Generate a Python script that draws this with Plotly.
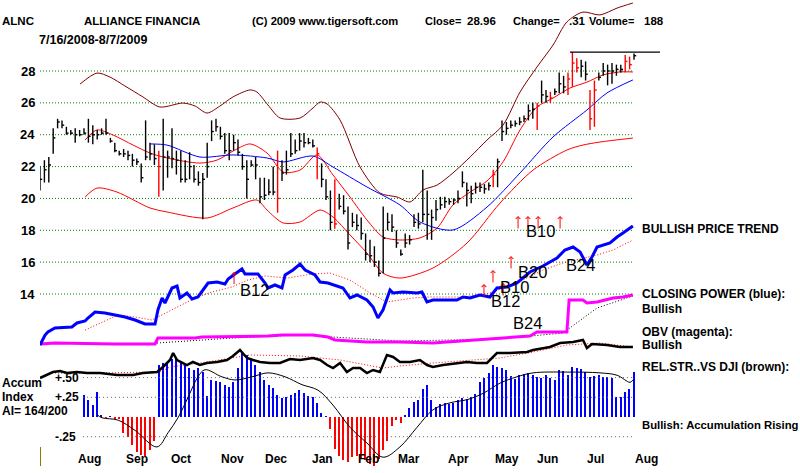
import plotly.graph_objects as go

# ------------------------------------------------------------------ data
price_ticks = [14, 16, 18, 20, 22, 24, 26, 28]
month_labels = ["Aug", "Sep", "Oct", "Nov", "Dec", "Jan", "Feb", "Mar", "Apr", "May", "Jun", "Jul", "Aug"]
month_pos = [22.7, 44.1, 64.1, 87.7, 107.3, 128.6, 149.1, 167.7, 190.0, 212.3, 230.9, 252.3, 275.9]

# price bars, one per two trading days (trading-day index)
bar_day = list(range(0, 272, 2))
bar_high = [22.0, 22.4, 22.6, 24.4, 25.0, 24.9, 24.5, 24.3, 24.4, 24.3,
            24.4, 25.0, 24.6, 24.3, 24.4, 25.0, 23.8, 23.5, 23.0, 23.1,
            23.0, 22.8, 22.5, 22.2, 24.9, 23.5, 23.4, 23.0, 25.0, 23.0,
            24.4, 23.0, 23.0, 22.4, 22.9, 22.1, 21.7, 21.6, 23.5, 24.9,
            25.0, 24.5, 24.1, 24.1, 24.0, 23.7, 22.8, 22.4, 22.4, 22.6,
            21.3, 21.3, 21.2, 22.0, 23.0, 22.4, 23.0, 24.1, 23.7, 24.1,
            24.1, 23.8, 23.7, 23.2, 22.2, 21.2, 20.5, 21.2, 20.3, 20.2,
            19.5, 19.1, 19.0, 18.8, 17.8, 17.4, 17.0, 16.1, 19.5, 19.1,
            19.0, 18.0, 16.8, 17.8, 17.7, 19.0, 19.1, 21.8, 20.5, 19.3,
            19.9, 20.1, 20.1, 20.0, 20.0, 20.5, 21.7, 21.0, 20.8, 21.0,
            21.0, 20.9, 21.0, 21.8, 22.5, 24.9, 24.8, 24.9, 24.9, 25.1,
            25.2, 25.9, 26.0, 26.0, 27.4, 26.8, 26.7, 26.9, 27.9, 27.7,
            27.9, 29.2, 28.8, 28.7, 28.6, 26.8, 27.4, 27.9, 28.5, 28.4,
            28.5, 28.4, 28.4, 29.0, 28.9, 29.1]
bar_low = [20.5, 21.0, 21.0, 22.8, 24.4, 24.4, 24.0, 24.0, 23.5, 23.9,
           24.0, 23.5, 23.4, 23.7, 24.0, 24.0, 23.5, 22.9, 22.7, 22.6,
           22.4, 22.0, 22.1, 21.0, 22.4, 22.4, 22.1, 20.1, 20.5, 21.3,
           21.9, 21.5, 21.0, 21.0, 21.2, 21.0, 20.8, 18.7, 21.3, 23.6,
           24.2, 23.7, 22.8, 22.4, 23.0, 22.7, 21.8, 20.0, 22.0, 21.2,
           19.7, 19.9, 20.2, 20.2, 19.1, 21.1, 21.5, 22.6, 22.8, 23.0,
           23.2, 23.4, 23.2, 21.2, 20.7, 19.9, 18.0, 18.1, 19.3, 19.0,
           16.8, 18.2, 18.0, 17.4, 16.1, 16.0, 15.7, 15.1, 15.3, 18.0,
           17.9, 16.9, 16.4, 16.9, 17.1, 18.2, 18.1, 18.5, 17.4, 17.4,
           18.6, 19.3, 19.4, 19.6, 19.6, 19.7, 20.7, 19.5, 19.7, 20.3,
           20.4, 20.3, 20.5, 20.7, 20.7, 23.6, 24.0, 24.4, 24.5, 24.6,
           24.8, 24.9, 25.0, 24.3, 26.0, 26.0, 26.0, 26.5, 26.6, 26.6,
           26.5, 27.0, 27.9, 27.6, 27.4, 24.3, 24.5, 27.4, 27.7, 27.1,
           27.2, 27.7, 27.9, 27.9, 28.1, 28.7]
bar_close = [21.2, 21.8, 22.1, 23.8, 24.8, 24.6, 24.1, 24.1, 24.0, 24.0,
             24.1, 23.9, 24.0, 24.0, 24.1, 24.1, 23.6, 23.0, 22.8, 22.8,
             22.7, 22.4, 22.3, 21.3, 22.6, 22.8, 22.5, 22.0, 22.6, 22.6,
             22.5, 22.4, 21.2, 21.2, 22.0, 21.2, 21.0, 21.2, 22.0, 24.2,
             24.5, 23.9, 23.0, 23.0, 23.5, 22.9, 22.0, 21.2, 22.1, 22.1,
             20.1, 20.2, 20.4, 20.4, 20.0, 21.6, 21.8, 22.8, 23.0, 23.6,
             23.5, 23.5, 23.3, 22.8, 21.2, 20.1, 18.5, 18.4, 19.5, 19.2,
             17.2, 18.5, 18.3, 17.8, 16.5, 16.4, 16.0, 15.3, 17.5, 18.5,
             18.2, 17.2, 16.5, 17.2, 17.4, 18.5, 18.4, 19.0, 19.0, 18.8,
             19.3, 19.6, 19.8, 19.8, 19.9, 20.0, 21.0, 20.5, 20.3, 20.7,
             20.7, 20.6, 20.8, 21.5, 22.3, 24.2, 24.4, 24.6, 24.7, 24.8,
             25.0, 25.5, 25.6, 25.8, 26.5, 26.4, 26.3, 26.7, 27.2, 27.0,
             27.5, 28.5, 28.2, 28.3, 27.8, 25.0, 26.8, 27.6, 28.0, 28.0,
             28.0, 28.1, 28.1, 28.6, 28.4, 28.96]
red_bars = [27, 54, 63, 67, 103, 113, 116, 120, 121, 122, 125, 126, 133, 134]

# bands and moving averages: (trading day, price)
upper_band = [(18.2, 27.18), (25.9, 27.87), (31.8, 27.62), (38.6, 27.06), (46.8, 26.37), (54.5, 25.74),
              (65.0, 25.99), (70.5, 25.80), (75.9, 25.36), (81.8, 25.80), (87.7, 26.37), (95.5, 26.81),
              (98.6, 26.68), (103.6, 25.87), (109.1, 25.05), (118.2, 25.05), (124.1, 25.68), (127.3, 26.05),
              (130.5, 25.93), (136.4, 24.92), (145.5, 21.97), (154.5, 20.34), (162.3, 20.09), (168.2, 19.78),
              (174.1, 20.53), (180.5, 20.84), (187.7, 21.60), (195.5, 22.60), (203.2, 23.67), (210.5, 24.61),
              (218.2, 26.68), (225.9, 28.25), (233.2, 29.63), (239.5, 31.08), (246.8, 31.70), (254.5, 31.52),
              (262.3, 31.95), (269.5, 32.27)]
lower_band = [(20.5, 20.09), (25.9, 20.65), (35.0, 20.40), (50.0, 19.40), (57.7, 19.15), (75.9, 18.77),
              (87.7, 19.40), (98.6, 19.90), (103.2, 19.27), (110.5, 18.46), (118.2, 18.52), (127.3, 19.27),
              (133.2, 18.83), (140.9, 17.71), (148.6, 16.57), (155.9, 15.31), (163.6, 15.00), (178.6, 15.63),
              (194.1, 17.20), (209.1, 19.71), (224.1, 21.78), (239.5, 23.04), (246.8, 23.35), (254.5, 23.54),
              (269.5, 23.79)]
mid_ma = [(20.5, 23.67), (25.9, 24.30), (33.2, 23.98), (42.3, 23.35), (50.0, 22.85), (57.7, 22.54),
          (72.7, 22.22), (80.5, 22.41), (88.6, 23.04), (95.5, 23.42), (103.2, 22.85), (110.5, 21.66),
          (118.2, 21.78), (125.9, 22.73), (133.2, 21.47), (140.9, 20.09), (148.6, 18.65), (155.9, 17.58),
          (163.6, 17.39), (172.7, 17.52), (180.5, 18.14), (187.7, 19.59), (195.5, 20.40), (203.2, 21.10),
          (210.5, 22.30), (218.2, 24.30), (225.9, 25.74), (233.2, 26.30), (240.9, 26.93), (248.6, 27.30),
          (255.9, 27.75), (263.6, 27.94), (269.5, 27.94)]
ma50 = [(50.0, 23.42), (57.7, 23.35), (72.7, 22.60), (87.7, 22.73), (103.2, 22.54), (110.5, 22.29),
        (124.1, 22.66), (133.2, 21.97), (148.6, 20.72), (163.6, 19.59), (172.7, 18.52), (187.7, 18.02),
        (203.2, 19.46), (218.2, 21.60), (233.2, 23.86), (248.6, 25.55), (257.7, 26.62), (269.5, 27.44)]
resistance = [(240.9, 29.19), (281.8, 29.19)]

# Closing Power (relative units)
cp_line = [(0, 5), (2.3, 15), (3.6, 18), (6.8, 22), (14.5, 23), (16.8, 27), (20.5, 29), (21.8, 32), (25, 38),
           (29.5, 37), (34.1, 35), (38.6, 33), (43.2, 30), (47.7, 26), (52.3, 26), (53.6, 40), (55.5, 52),
           (56.8, 47), (60, 62), (62.3, 64), (63.6, 52), (66.8, 57), (69.1, 51), (71.8, 53), (76.4, 67),
           (80.5, 68), (84.1, 66), (85.5, 71), (88.6, 76), (91.8, 81), (93.2, 76), (99.1, 76), (102.3, 67),
           (103.6, 62), (106.8, 65), (110, 62), (111.4, 75), (115, 80), (118.2, 86), (120.5, 80), (125, 75),
           (127.3, 68), (130.9, 67), (134.1, 65), (137.7, 62), (140.9, 52), (144.1, 55), (148.6, 50),
           (151.4, 43), (153.6, 32), (155.9, 40), (159.1, 60), (160.5, 57), (165, 58), (171.4, 57),
           (173.6, 58), (175.9, 48), (178.6, 50), (183.2, 50), (189.5, 50), (192.3, 53), (195.5, 52),
           (200, 55), (204.5, 53), (207.7, 62), (212.3, 63), (216.8, 67), (222.7, 78), (228.6, 84),
           (235, 92), (238.6, 100), (242.3, 103), (245.5, 98), (248.6, 85), (250.9, 93), (253.2, 103),
           (259.1, 107), (262.3, 113), (265, 117), (269.5, 124)]
cp_ma = [(20.5, 20), (35.5, 35), (43.2, 33), (50.9, 30), (53.6, 33), (61.4, 42), (70.5, 52), (78.2, 58),
         (87.3, 63), (94.5, 70), (102.3, 74), (112.7, 72), (123.6, 76), (131.8, 77), (140.9, 70), (150, 57),
         (157.7, 48), (169.5, 52), (177.3, 53), (192.3, 53), (204.5, 57), (216.8, 67), (228.6, 80),
         (237.7, 87), (253.2, 95), (260.5, 100), (269.5, 110)]

# OBV (relative units)
obv_line = [(0, 1), (6.8, 2), (34.1, 1), (52.3, 1), (53.6, 7), (70.5, 7), (73.6, 8), (103.6, 9), (110, 10),
            (124.1, 10), (130.9, 8), (134.1, 5), (148.6, 3), (163.6, 3), (178.6, 2), (190.9, 4), (201.4, 6),
            (216.8, 8), (222.7, 9), (225.9, 13), (239.5, 13), (240.5, 45), (246.8, 45), (248.6, 42),
            (253.2, 43), (260.5, 47), (265, 48), (269.5, 50)]
obv_ma = [(53.2, 2), (87.7, 7), (118.2, 10), (140.9, 7), (163.6, 4), (209, 6), (237.7, 12), (253.2, 37),
          (269.5, 49)]

# Relative strength vs DJI (relative units)
rs_line = [(0, 2), (5.9, 8), (9.1, 9), (12.3, 7), (16.8, 8), (21.4, 7), (27.3, 7), (35, 5), (42.3, 5),
           (46.8, 7), (53.2, 8), (55.9, 13), (59.1, 20), (60.5, 27), (62.3, 20), (65, 17), (66.8, 15),
           (69.5, 18), (72.7, 15), (75.9, 17), (80.5, 18), (85, 20), (87.7, 24), (90.9, 30), (94.1, 22),
           (96.8, 20), (100, 18), (104.5, 17), (109.1, 17), (113.6, 21), (118.2, 20), (124.1, 22),
           (127.3, 20), (130.5, 15), (133.2, 12), (136.4, 17), (139.5, 8), (142.3, 12), (145.5, 12),
           (148.6, 7), (151.4, 10), (154.5, 8), (157.7, 25), (160.5, 23), (163.6, 18), (168.2, 18),
           (172.7, 20), (175.9, 15), (178.6, 13), (183.2, 15), (189.5, 17), (194.1, 18), (198.6, 17),
           (203.2, 17), (207.7, 27), (213.6, 27), (221.4, 28), (224.1, 30), (231.8, 33), (236.4, 37),
           (242.3, 38), (246.8, 40), (248.6, 32), (250.9, 36), (257.7, 35), (263.6, 33), (269.5, 33)]
rs_ma = [(6.8, 7), (27.3, 7), (54.5, 8), (59.1, 13), (72.7, 17), (95.5, 25), (118.2, 24), (136.4, 20),
         (155.9, 12), (163.6, 14), (178.6, 17), (209, 22), (224.1, 28), (239.5, 35), (254.5, 37), (269.5, 33)]

# Accumulation index, per price bar from bar 10 on
ai_start = 10
ai_values = [0.28, 0.22, 0.15, 0.32, 0.02, -0.01, 0.01, -0.02, -0.03, -0.20,
             -0.26, -0.36, -0.44, -0.48, -0.49, -0.42, -0.30, 0.66, 0.68, 0.70,
             0.74, 0.73, 0.71, 0.67, 0.62, 0.60, 0.62, 0.57, 0.27, 0.47,
             0.46, 0.44, 0.40, 0.38, 0.45, 0.62, 0.82, 0.79, 0.74, 0.66,
             0.57, 0.47, 0.40, 0.37, 0.28, 0.24, 0.25, 0.28, 0.30, 0.34,
             0.30, 0.27, 0.25, 0.18, 0.05, 0.01, -0.15, -0.40, -0.50, -0.55,
             -0.57, -0.51, -0.50, -0.52, -0.55, -0.60, -0.62, -0.53, -0.42, -0.30,
             -0.12, -0.04, -0.08, 0.02, 0.12, 0.19, 0.21, 0.35, 0.40, 0.22,
             0.13, 0.16, 0.18, 0.17, 0.18, 0.22, 0.24, 0.23, 0.25, 0.29,
             0.44, 0.50, 0.56, 0.66, 0.63, 0.62, 0.60, 0.52, 0.48, 0.53,
             0.55, 0.56, 0.53, 0.51, 0.49, 0.53, 0.50, 0.47, 0.60, 0.58,
             0.53, 0.63, 0.62, 0.61, 0.57, 0.51, 0.52, 0.53, 0.51, 0.51,
             0.50, 0.25, 0.26, 0.32, 0.35, 0.57]
ai_ma = [(25.9, 0.03), (28.2, -0.01), (35.5, -0.04), (43.2, -0.17), (53.2, -0.38), (58.2, -0.20),
         (62.7, -0.01), (67.3, 0.25), (71.8, 0.51), (75.0, 0.60), (82.7, 0.51), (88.6, 0.47), (96.4, 0.51),
         (103.6, 0.56), (111.4, 0.51), (119.1, 0.41), (126.4, 0.34), (133.2, 0.15), (140.9, -0.13),
         (148.6, -0.33), (155.9, -0.51), (163.6, -0.38), (171.4, -0.13), (178.6, 0.09), (186.4, 0.18),
         (194.1, 0.22), (201.4, 0.30), (209.1, 0.43), (216.8, 0.51), (224.1, 0.56), (239.5, 0.57),
         (254.5, 0.56), (262.3, 0.53), (268.2, 0.44), (269.5, 0.47)]
ai_ticks = [0.50, 0.25, -0.25]
ai_tick_text = ["+.50", "+.25", "-.25"]

# buy signals: arrow tips (trading day, price) and labels
sig_arrows = [(88.2, 15.40), (201.8, 14.63), (205.9, 15.51), (210.5, 14.69), (214.1, 16.39),
              (217.3, 18.90), (221.8, 18.90), (226.4, 18.90), (236.4, 18.90)]
sig_labels = [("B12", 97.7, 14.25), ("B10", 227.3, 17.96), ("B20", 224.0, 15.40), ("B10", 215.9, 14.44),
              ("B12", 211.4, 13.55), ("B24", 245.5, 15.82), ("B24", 221.4, 12.18)]

right_labels = [("BULLISH PRICE TREND", 229), ("CLOSING POWER (blue):", 294), ("Bullish", 309),
                ("OBV (magenta):", 332), ("Bullish", 345), ("REL.STR..VS DJI (brown):", 367)]
bottom_right_label = ("Bullish: Accumulation Rising", 425)

# ------------------------------------------------------------------ layout constants
W, H = 800, 473
X0_PX, PX_PER_DAY = 40, 2.2
PRICE_PX = (28, 71, 14, 294)  # price, pixel, price, pixel
FONT = "Liberation Sans, Arial, sans-serif"

ppu = (PRICE_PX[3] - PRICE_PX[1]) / (PRICE_PX[0] - PRICE_PX[2])
price_range = [PRICE_PX[0] - (H - PRICE_PX[1]) / ppu, PRICE_PX[0] + PRICE_PX[1] / ppu]
ai_ppu = 78.8
ai_range = [-(H - 417) / ai_ppu, 417 / ai_ppu]


def py(p):
    return 1 - p / H


def unzip(pts):
    return [p[0] for p in pts], [p[1] for p in pts]


fig = go.Figure()

# price grid
gx, gy = [], []
for t in price_ticks:
    gx += [0, 270, None]
    gy += [t, t, None]
fig.add_trace(go.Scatter(x=gx, y=gy, mode="lines", line=dict(color="#008000", width=1, dash="1px,2px"),
                         hoverinfo="skip"))

# bands
for pts, col in [(upper_band, "#800000"), (lower_band, "#ff0000"), (mid_ma, "#ff0000"), (ma50, "#0000ff")]:
    x, y = unzip(pts)
    fig.add_trace(go.Scatter(x=x, y=y, mode="lines", line=dict(color=col, width=1, shape="spline",
                                                                 smoothing=0.8), hoverinfo="skip"))


def bar_segments(idx):
    xs, ys = [], []
    for k in idx:
        d = bar_day[k]
        xs += [d, d, None, d, d + 1.0, None]
        ys += [bar_low[k], bar_high[k], None, bar_close[k], bar_close[k], None]
    return xs, ys


black_idx = [k for k in range(len(bar_day)) if k not in red_bars]
for idx, col in [(black_idx, "#000000"), (red_bars, "#ff0000")]:
    x, y = bar_segments(idx)
    fig.add_trace(go.Scatter(x=x, y=y, mode="lines", line=dict(color=col, width=1.4), hoverinfo="skip"))

x, y = unzip(resistance)
fig.add_trace(go.Scatter(x=x, y=y, mode="lines", line=dict(color="#000000", width=1.2), hoverinfo="skip"))

# accumulation index (y2)
ai_x = [bar_day[ai_start + i] for i in range(len(ai_values))]
ai_col = ["#0000ff" if v >= 0 else "#ff0000" for v in ai_values]
fig.add_trace(go.Bar(x=ai_x, y=ai_values, width=0.6, marker=dict(color=ai_col, line=dict(width=0)),
                     yaxis="y2", hoverinfo="skip"))
ggx, ggy = [], []
for t in ai_ticks:
    ggx += [19.5, 270, None]
    ggy += [t, t, None]
fig.add_trace(go.Scatter(x=ggx, y=ggy, mode="lines", line=dict(color="#606060", width=1, dash="1px,3px"),
                         yaxis="y2", hoverinfo="skip"))
x, y = unzip(ai_ma)
fig.add_trace(go.Scatter(x=x, y=y, mode="lines", line=dict(color="#000000", width=1, shape="spline"),
                         yaxis="y2", hoverinfo="skip"))

# OBV (y3)
x, y = unzip(obv_ma)
fig.add_trace(go.Scatter(x=x, y=y, mode="lines", line=dict(color="#000000", width=1, dash="1px,2px"),
                         yaxis="y3", hoverinfo="skip"))
x, y = unzip(obv_line)
fig.add_trace(go.Scatter(x=x, y=y, mode="lines", line=dict(color="#ff00ff", width=3), yaxis="y3",
                         hoverinfo="skip"))

# relative strength (y4)
x, y = unzip(rs_ma)
fig.add_trace(go.Scatter(x=x, y=y, mode="lines", line=dict(color="#ff0000", width=1, dash="1px,2px"),
                         yaxis="y4", hoverinfo="skip"))
x, y = unzip(rs_line)
fig.add_trace(go.Scatter(x=x, y=y, mode="lines", line=dict(color="#000000", width=2.5), yaxis="y4",
                         hoverinfo="skip"))

# closing power (y5)
x, y = unzip(cp_ma)
fig.add_trace(go.Scatter(x=x, y=y, mode="lines", line=dict(color="#ff0000", width=1, dash="1px,2px"),
                         yaxis="y5", hoverinfo="skip"))
x, y = unzip(cp_line)
fig.add_trace(go.Scatter(x=x, y=y, mode="lines", line=dict(color="#0000ff", width=3), yaxis="y5",
                         hoverinfo="skip"))

# ------------------------------------------------------------------ annotations
ann = []


def txt(xp, yp, s, size=12, bold=True, anchor="left"):
    ann.append(dict(x=xp / W, y=py(yp), xref="paper", yref="paper", text=("<b>%s</b>" % s) if bold else s,
                    showarrow=False, xanchor=anchor, yanchor="middle", borderpad=0,
                    font=dict(family=FONT, size=size, color="#000000")))


txt(1, 21, "ALNC", 11.5)
txt(83, 21, "ALLIANCE FINANCIA", 11.5)
txt(251, 21, "(C) 2009 www.tigersoft.com", 11.2)
txt(424, 21, "Close=", 11)
txt(466, 21, "28.96", 11.5)
txt(512, 21, "Change=", 11)
txt(568, 21, ".31", 11.5)
txt(588, 21, "Volume=", 11)
txt(643, 21, "188", 11.5)
txt(38, 40, "7/16/2008-8/7/2009", 12.5)
for s, yp in right_labels:
    txt(641, yp, s)
txt(641, bottom_right_label[1], bottom_right_label[0], 11.3)
txt(1, 383, "Accum")
txt(1, 397, "Index")
txt(1, 411, "AI= 164/200")

for t in price_ticks:
    ann.append(dict(x=37 / W, y=t, xref="paper", yref="y", text="<b>%d</b>" % t, showarrow=False,
                    xanchor="right", yanchor="middle", font=dict(family=FONT, size=13, color="#000000")))
for v, s in zip(ai_ticks, ai_tick_text):
    ann.append(dict(x=53 / W, y=v, xref="paper", yref="y2", text="<b>%s</b>" % s, showarrow=False,
                    xanchor="left", yanchor="middle", font=dict(family=FONT, size=12, color="#000000")))
for m, pos in zip(month_labels, month_pos):
    ann.append(dict(x=pos, y=py(459), xref="x", yref="paper", text="<b>%s</b>" % m, showarrow=False,
                    xanchor="center", yanchor="middle", font=dict(family=FONT, size=12, color="#000000")))
for sx, sy in sig_arrows:
    ann.append(dict(x=sx, y=sy, xref="x", yref="y", text="", showarrow=True, ax=0, ay=14,
                    arrowhead=4, arrowsize=0.9, arrowwidth=1, arrowcolor="#ff0000"))
for s, sx, sy in sig_labels:
    ann.append(dict(x=sx, y=sy, xref="x", yref="y", text=s, showarrow=False, xanchor="center",
                    yanchor="middle", borderpad=0, font=dict(family=FONT, size=16.5, color="#000000")))

hidden = dict(visible=False, showgrid=False, zeroline=False, fixedrange=True)
fig.update_layout(
    width=W, height=H, margin=dict(l=0, r=0, t=0, b=0),
    paper_bgcolor="#ffffff", plot_bgcolor="#ffffff", showlegend=False, hovermode=False,
    bargap=0,
    xaxis=dict(domain=[X0_PX / W, 1], range=[0, (W - X0_PX) / PX_PER_DAY], **hidden),
    yaxis=dict(domain=[0, 1], range=price_range, **hidden),
    yaxis2=dict(overlaying="y", anchor="x", range=ai_range, **hidden),
    yaxis3=dict(overlaying="y", anchor="x", range=[345 - H, 345], **hidden),
    yaxis4=dict(overlaying="y", anchor="x", range=[380 - H, 380], **hidden),
    yaxis5=dict(overlaying="y", anchor="x", range=[350 - H, 350], **hidden),
    annotations=ann,
    shapes=[dict(type="line", xref="paper", yref="paper", x0=40.5 / W, x1=40.5 / W, y0=py(447), y1=py(466),
                 line=dict(color="#808000", width=1))],
)

fig.write_html("out.html", config={"displayModeBar": False})
